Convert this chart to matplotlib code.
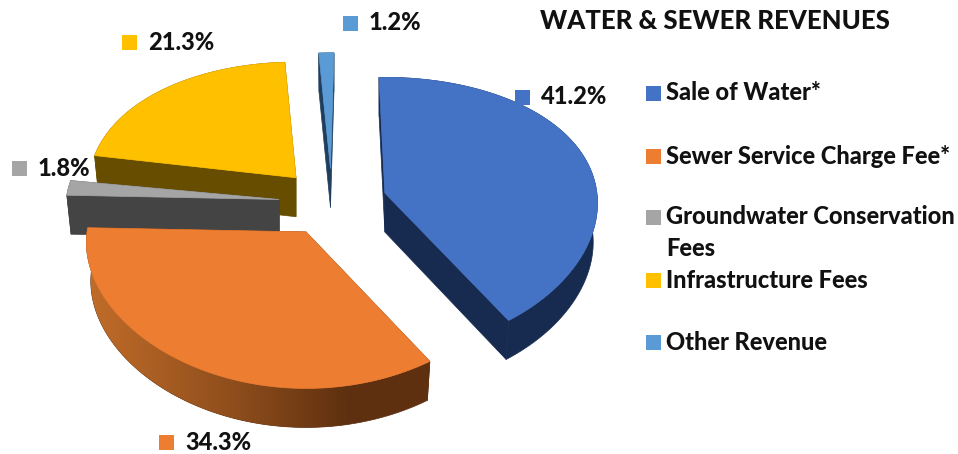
import numpy as np
import matplotlib
matplotlib.use("Agg")
from matplotlib import pyplot as plt
from matplotlib.colors import LinearSegmentedColormap
from matplotlib.patches import Polygon, Rectangle

plt.rcParams['font.family'] = ['Lato', 'DejaVu Sans']

# data
categories = ["Sale of Water*", "Sewer Service Charge Fee*",
              "Groundwater Conservation\nFees", "Infrastructure Fees", "Other Revenue"]
shares = [41.2, 34.3, 1.8, 21.3, 1.2]
title = "WATER & SEWER REVENUES"

# styles
colors = ["#4472c4", "#ed7d31", "#a5a5a5", "#ffc000", "#5b9bd5"]
side_colors = ["#172b50", "#5e300f", "#444444", "#664d00", "#1f3d5c"]
draw_order = [3, 4, 2, 0, 1]

# layout of the fake 3d pie, in pixels
cx, cy = 333, 202.5
ry = 133
slice_rx = [212, 219, 213, 207, 216]
turn = [-1.2, 0, 0, 1.5, 1.5]   # small rotation of single slices
explode_x, explode_y = 54, 34
persp = 0.15
depth = 39
shrink = 0.98
start_angle = -0.5

label_pos = [(515, 97), (159, 442), (12, 168), (122, 42), (343, 23)]
legend_y = [93, 156, 217, 280, 342]
text_kw = dict(fontweight=900, color='#111111', va='center', ha='left')


def rim_points(ax0, ay0, angles, rx):
    t = np.radians(angles)
    X = np.sin(t)
    Z = -np.cos(t)
    s = 1 / (1 - persp * Z)
    return ax0 + rx * X * s ** 0.5, ay0 + ry * Z * s


fig = plt.figure(figsize=(9.58, 4.54), dpi=100)
ax = fig.add_axes([0, 0, 1, 1])

fractions = np.array(shares) / sum(shares) * 360
edges = start_angle + np.concatenate([[0], np.cumsum(fractions)])
orange_map = LinearSegmentedColormap.from_list(
    "rim", [(0, "#c06c29"), (0.55, "#8f4e1c"), (1, "#5e300f")])

z = 1
for i in draw_order:
    a0, a1 = edges[i] + turn[i], edges[i + 1] + turn[i]
    mid = np.radians((edges[i] + edges[i + 1]) / 2)
    ax0 = cx + explode_x * np.sin(mid)
    ay0 = cy - explode_y * np.cos(mid)
    angles = np.linspace(a0, a1, 200)
    x, y = rim_points(ax0, ay0, angles, slice_rx[i])
    xb = ax0 + (x - ax0) * shrink
    yb = y + depth

    # cut faces
    for k in [0, -1]:
        ax.add_patch(Polygon([(ax0, ay0), (x[k], y[k]), (xb[k], yb[k]), (ax0, ay0 + depth)],
                             closed=True, fc=side_colors[i], ec=side_colors[i], lw=0.5, zorder=z))

    # rim, the orange one has a gradient going left to right
    rim = Polygon(np.column_stack([np.r_[x, xb[::-1]], np.r_[y, yb[::-1]]]), closed=True,
                  fc=side_colors[i], ec=side_colors[i], lw=0.5, zorder=z + 1)
    ax.add_patch(rim)
    if i == 1:
        grad = np.linspace(0, 1, 256).reshape(1, -1)
        im = ax.imshow(grad, extent=(90, 350, 440, 220), cmap=orange_map, aspect='auto', zorder=z + 1.5)
        im.set_clip_path(rim)
        # right of the gradient stays dark, the rim patch shows through there

    # top
    ax.add_patch(Polygon(np.column_stack([np.r_[ax0, x], np.r_[ay0, y]]), closed=True,
                         fc=colors[i], ec=colors[i], lw=0.5, zorder=z + 2))
    z += 3

# value labels with their color keys
for i, (lx, ly) in enumerate(label_pos):
    ax.add_patch(Rectangle((lx, ly - 7.5), 15, 15, fc=colors[i], ec='none', zorder=z))
    ax.text(lx + 26, ly, "%.1f%%" % shares[i], fontsize=17, zorder=z, **text_kw)

# legend
for i, ly in enumerate(legend_y):
    ax.add_patch(Rectangle((646, ly - 7.5), 15, 15, fc=colors[i], ec='none', zorder=z))
    lines = categories[i].split("\n")
    for n, line in enumerate(lines):
        ax.text(666, ly + n * 31, line, fontsize=17, zorder=z, **text_kw)

ax.text(540, 21, title, fontsize=18.5, zorder=z, **text_kw)

ax.set_xlim(0, 958)
ax.set_ylim(454, 0)
ax.axis('off')

fig.savefig('out.png', dpi=100)
